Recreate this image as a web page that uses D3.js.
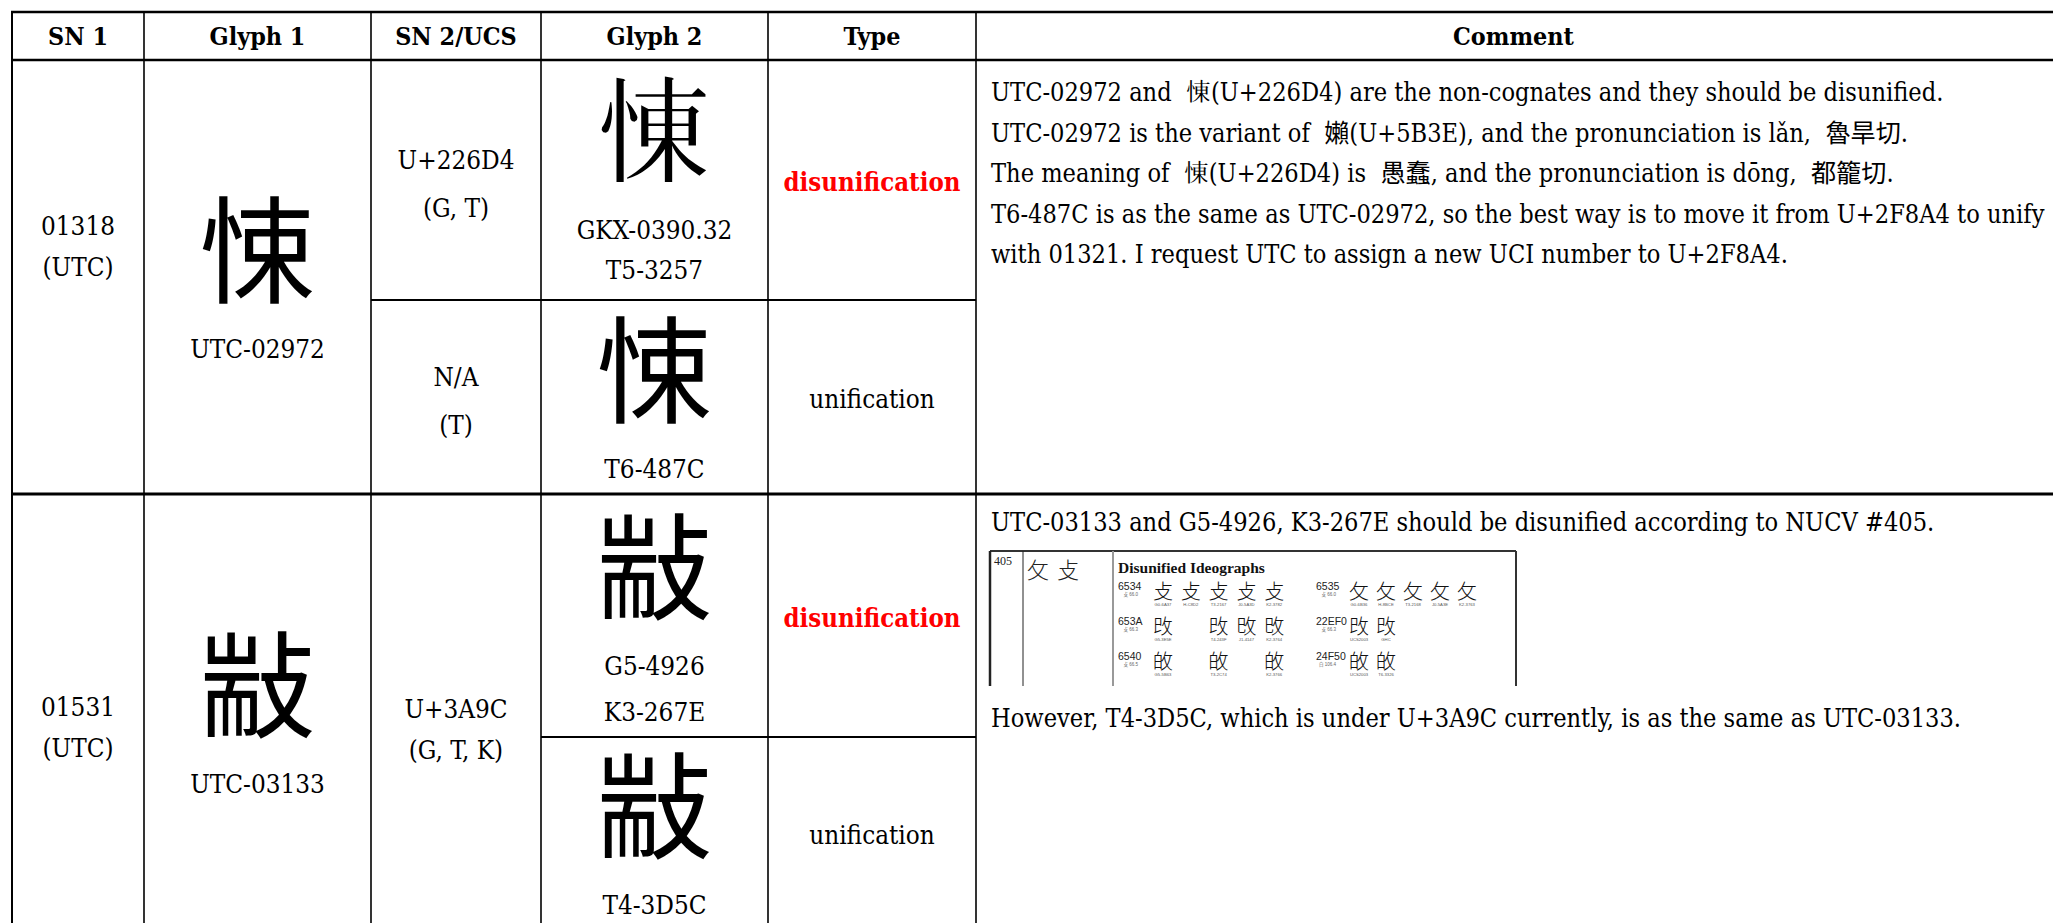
<!DOCTYPE html>
<html><head><meta charset="utf-8">
<script src="https://cdn.jsdelivr.net/npm/d3@7/dist/d3.min.js"></script>
<style>html,body{margin:0;padding:0;background:#fff;overflow:hidden;}svg{display:block}</style>
</head><body>
<svg id="chart"></svg>
<script>
// ===================== DATA =====================
const headers = ["SN 1", "Glyph 1", "SN 2/UCS", "Glyph 2", "Type", "Comment"];
const sn1Lines = [["01318", "(UTC)"], ["01531", "(UTC)"]];
const glyph1Chars = ["悚", "㪜"];
const glyph1Sources = ["UTC-02972", "UTC-03133"];
const sn2Lines = [[["U+226D4", "(G, T)"], ["N/A", "(T)"]], [["U+3A9C", "(G, T, K)"]]];
const glyph2Chars = [["\u{226D4}", "悚"], ["㪜", "㪜"]];
const glyph2Sources = [[["GKX-0390.32", "T5-3257"], ["T6-487C"]], [["G5-4926", "K3-267E"], ["T4-3D5C"]]];
const typeLabels = [["disunification", "unification"], ["disunification", "unification"]];
const comment1Lines = [
  "UTC-02972 and  \u{226D4}(U+226D4) are the non-cognates and they should be disunified.",
  "UTC-02972 is the variant of  嬾(U+5B3E), and the pronunciation is lǎn,  魯旱切.",
  "The meaning of  \u{226D4}(U+226D4) is  愚蠢, and the pronunciation is dōng,  都籠切.",
  "T6-487C is as the same as UTC-02972, so the best way is to move it from U+2F8A4 to unify",
  "with 01321. I request UTC to assign a new UCI number to U+2F8A4."
];
const comment2Before = ["UTC-03133 and G5-4926, K3-267E should be disunified according to NUCV #405."];
const comment2After = ["However, T4-3D5C, which is under U+3A9C currently, is as the same as UTC-03133."];
// NUCV #405 excerpt shown inside the comment
const nucvNumber = "405";
const nucvPair = ["攵", "攴"];
const nucvTitle = "Disunified Ideographs";
const nucvLeft = [
  {code: "6534", rad: "攴 66.0", ch: "攴", items: [[0, "G0-6A37"], [1, "H-C8D2"], [2, "T3-2167"], [3, "J0-5A3D"], [4, "K2-3782"]]},
  {code: "653A", rad: "攴 66.3", ch: "攺", items: [[0, "G5-3E5E"], [2, "T4-243F"], [3, "J1-4147"], [4, "K2-3764"]]},
  {code: "6540", rad: "攴 66.5", ch: "敀", items: [[0, "G5-5B63"], [2, "T3-2C74"], [4, "K2-3766"]]}
];
const nucvRight = [
  {code: "6535", rad: "攴 66.0", ch: "攵", items: [[0, "G0-6B36"], [1, "H-8BCE"], [2, "T3-2168"], [3, "J0-5A3E"], [4, "K2-3763"]]},
  {code: "22EF0", rad: "攴 66.3", ch: "\u{22EF0}", items: [[0, "UCS2003"], [1, "GHC"]]},
  {code: "24F50", rad: "白 106.4", ch: "\u{24F50}", items: [[0, "UCS2003"], [1, "T6-3326"]]}
];
// look-alike substitutes if the installed fonts lack a character
const fallbackChars = {"\u{226D4}": "悚", "\u{22EF0}": "攺", "\u{24F50}": "敀"};

// ===================== LAYOUT =====================
const W = 2053, H = 923;
const colEdges = [12, 144, 371, 541, 768, 976, 2051];
const rowEdges = [12, 60, 300, 494, 737, 929];
const x = d3.scaleLinear().domain(d3.range(colEdges.length)).range(colEdges);
const y = d3.scaleLinear().domain(d3.range(rowEdges.length)).range(rowEdges);
const GLYPH = 116;
// per-row paragraph placement (offset of text block centre from the row top, line gap)
const sn1Place = [[184, 40.6], [231, 40.6]];
const sn2Gap = [48, 40.6];
const sn2RowOffset = [0, 233];
const glyph2Gap = [40, 46];
const COM_GAP = 40.6;

const CJK = "'Noto Sans CJK SC','Noto Sans CJK TC','Noto Sans CJK JP','Noto Sans CJK KR'";
const SERIF = "'DejaVu Serif Condensed','DejaVu Serif'," + CJK + ",serif";

const svg = d3.select("#chart").attr("width", W).attr("height", H);
svg.append("rect").attr("width", W).attr("height", H).attr("fill", "#fff");

// ---- glyph availability check ----
function renders(ch) {
  const cv = document.createElement("canvas"); cv.width = 80; cv.height = 80;
  const g = cv.getContext("2d");
  const snap = t => { g.clearRect(0, 0, 80, 80); g.font = "60px " + CJK; g.textBaseline = "middle"; g.fillStyle = "#000"; g.fillText(t, 5, 40); return g.getImageData(0, 0, 80, 80).data; };
  const a = snap(ch), b = snap("\u{31350}"), c = snap("\u{10FFFD}");
  const eq = (p, q) => { for (let i = 3; i < p.length; i += 4) if (p[i] !== q[i]) return false; return true; };
  let ink = 0; for (let i = 3; i < a.length; i += 4) if (a[i] > 0) ink++;
  return ink > 0 && !eq(a, b) && !eq(a, c);
}
const okMap = {};
Object.keys(fallbackChars).forEach(k => okMap[k] = renders(k));
const useChar = ch => (fallbackChars[ch] && !okMap[ch]) ? fallbackChars[ch] : ch;
const fixStr = s => Array.from(s).map(useChar).join("");

function cjkFont(src) {
  if (src.startsWith("UTC") || src.startsWith("T") || src.startsWith("H")) return "'Noto Sans CJK TC'";
  if (src.startsWith("J")) return "'Noto Sans CJK JP'";
  if (src.startsWith("K")) return "'Noto Sans CJK KR'";
  return "'Noto Sans CJK SC'";
}

// ---- text measuring / fitting ----
const meas = svg.append("text").attr("x", -9999).attr("y", -9999);
function textW(str, fam, wt, size) {
  meas.attr("font-family", fam).attr("font-weight", wt).attr("font-size", size).text(str);
  return meas.node().getComputedTextLength();
}
function fit(samples, targets, fam, wt) {
  let m = 0, t = 0;
  samples.forEach((s, i) => { m += textW(s, fam, wt, 20); t += targets[i]; });
  return 20 * t / m;
}
const headSize = fit(headers, [54, 96, 118, 96, 63, 124], SERIF, "bold");
const cellSize = fit(["UTC-02972", "GKX-0390.32", "unification"], [134, 155, 127], SERIF, "normal");
const typeSize = fit(["disunification"], [177], SERIF, "bold");
const comSize = fit([fixStr(comment1Lines[3])], [1054], SERIF, "normal");
meas.remove();

// ===================== GRID =====================
const grid = svg.append("g").attr("stroke", "#000").attr("fill", "none");
function hline(yy, x0, x1, w) { grid.append("line").attr("x1", x0).attr("x2", x1).attr("y1", yy).attr("y2", yy).attr("stroke-width", w); }
function vline(xx, y0, y1, w) { grid.append("line").attr("x1", xx).attr("x2", xx).attr("y1", y0).attr("y2", y1).attr("stroke-width", w); }
d3.range(0, 6).forEach(i => vline(x(i), y(0), y(5) + 40, i === 0 ? 2 : 1.6));
hline(y(0), x(0) - 1, W + 5, 2.6);
hline(y(1), x(0) - 1, W + 5, 2.6);
hline(y(3), x(0) - 1, W + 5, 3);
hline(y(2), x(2), x(5), 2.2);
hline(y(4), x(3), x(5), 2.2);

// ===================== HEADER =====================
svg.append("g").selectAll("text").data(headers).join("text")
  .attr("x", (d, i) => (x(i) + x(i + 1)) / 2)
  .attr("y", (y(0) + y(1)) / 2 + 0.36 * headSize)
  .attr("text-anchor", "middle")
  .attr("font-family", SERIF).attr("font-weight", "bold").attr("font-size", headSize)
  .attr("fill", "#000").text(d => d);

// ===================== BODY =====================
const body = svg.append("g");
function lines(arr, cx, cy, size, gap, opts = {}) {
  const n = arr.length;
  arr.forEach((s, i) => {
    body.append("text")
      .attr("x", cx)
      .attr("y", cy + (i - (n - 1) / 2) * gap + 0.365 * size + 2)
      .attr("text-anchor", "middle")
      .attr("font-family", SERIF).attr("font-weight", opts.weight || "normal")
      .attr("font-size", size).attr("fill", opts.color || "#000").text(s);
  });
}
function glyphBlock(ch, labels, fontFam, cx, cy, gap) {
  const n = labels.length;
  const gc = cy - 27 - (n - 1) * 22;
  body.append("text").attr("x", cx).attr("y", gc + 0.38 * GLYPH)
    .attr("text-anchor", "middle").attr("font-family", fontFam).attr("font-size", GLYPH)
    .attr("fill", "#000").text(useChar(ch));
  labels.forEach((s, i) => {
    body.append("text").attr("x", cx).attr("y", gc + 108 + i * gap)
      .attr("text-anchor", "middle").attr("font-family", SERIF).attr("font-size", cellSize)
      .attr("fill", "#000").text(s);
  });
}

[0, 1].forEach(r => {
  const top = y(1 + 2 * r), mid = y(2 + 2 * r), bot = y(3 + 2 * r);
  const c = (top + bot) / 2;
  const subs = [[top, mid], [mid, bot]];
  // SN 1
  lines(sn1Lines[r], (x(0) + x(1)) / 2, top + sn1Place[r][0], cellSize, sn1Place[r][1]);
  // Glyph 1
  glyphBlock(glyph1Chars[r], [glyph1Sources[r]], cjkFont(glyph1Sources[r]), (x(1) + x(2)) / 2, c, 48);
  // SN 2 / UCS
  if (sn2Lines[r].length === 2) {
    sn2Lines[r].forEach((ls, k) => lines(ls, (x(2) + x(3)) / 2, (subs[k][0] + subs[k][1]) / 2 + 2, cellSize, sn2Gap[r]));
  } else {
    lines(sn2Lines[r][0], (x(2) + x(3)) / 2, top + sn2RowOffset[r], cellSize, sn2Gap[r]);
  }
  // Glyph 2 and Type
  [0, 1].forEach(k => {
    const cc = (subs[k][0] + subs[k][1]) / 2;
    const srcs = glyph2Sources[r][k];
    glyphBlock(glyph2Chars[r][k], srcs, cjkFont(srcs[0]), (x(3) + x(4)) / 2, cc, glyph2Gap[r]);
    const t = typeLabels[r][k];
    const dis = t === "disunification";
    lines([t], (x(4) + x(5)) / 2, cc, dis ? typeSize : cellSize, 48, {weight: dis ? "bold" : "normal", color: dis ? "#ff0000" : "#000"});
  });
});

// ===================== COMMENTS =====================
const comX = x(5) + 15;
function comLine(s, yy) {
  body.append("text").attr("x", comX).attr("y", yy)
    .attr("font-family", SERIF).attr("font-size", comSize).attr("fill", "#000")
    .attr("xml:space", "preserve").style("white-space", "pre").text(fixStr(s));
}
comment1Lines.forEach((s, i) => comLine(s, y(1) + 41 + i * COM_GAP));
comment2Before.forEach((s, i) => comLine(s, y(3) + 37 + i * COM_GAP));
comment2After.forEach((s, i) => comLine(s, y(3) + 233 + i * COM_GAP));

// ---- NUCV #405 excerpt ----
const nx = x(5) + 14, ny = y(3) + 57, nw = 526, nh = 140;
const nv = svg.append("g").attr("transform", `translate(${nx},${ny})`);
const nvClip = svg.append("clipPath").attr("id", "nvclip");
nvClip.append("rect").attr("x", -4).attr("y", -4).attr("width", nw + 8).attr("height", y(3) + 192 - ny + 4);
nv.attr("clip-path", "url(#nvclip)");
nv.append("line").attr("x1", 0).attr("x2", nw).attr("y1", 0).attr("y2", 0).attr("stroke", "#333").attr("stroke-width", 2);
nv.append("line").attr("x1", 0).attr("x2", 0).attr("y1", 0).attr("y2", nh).attr("stroke", "#222").attr("stroke-width", 2.5);
nv.append("line").attr("x1", 33).attr("x2", 33).attr("y1", 0).attr("y2", nh).attr("stroke", "#222").attr("stroke-width", 1);
nv.append("line").attr("x1", 123).attr("x2", 123).attr("y1", 0).attr("y2", nh).attr("stroke", "#999").attr("stroke-width", 2);
nv.append("line").attr("x1", nw).attr("x2", nw).attr("y1", 0).attr("y2", nh).attr("stroke", "#333").attr("stroke-width", 2);
nv.append("text").attr("x", 4).attr("y", 14).attr("font-family", "'Liberation Serif'").attr("font-size", 12).attr("fill", "#222").text(nucvNumber);
nucvPair.forEach((ch, i) => {
  nv.append("text").attr("x", 48 + i * 30).attr("y", 19 + 0.38 * 22).attr("text-anchor", "middle")
    .attr("font-family", "'Noto Sans CJK SC'").attr("font-weight", 300).attr("font-size", 22).attr("fill", "#222").text(ch);
});
nv.append("text").attr("x", 128).attr("y", 22).attr("font-family", "'Liberation Serif'").attr("font-weight", "bold")
  .attr("font-size", 15.5).attr("fill", "#111").text(nucvTitle);
const rowY = d3.scaleLinear().domain([0, 1]).range([40, 75]);
const leftSlot = d3.scaleLinear().domain([0, 1]).range([173, 200.8]);
const rightSlot = d3.scaleLinear().domain([0, 1]).range([369, 396]);
function nucvGroup(list, codeX, slot) {
  list.forEach((grp, r) => {
    const gy = rowY(r);
    nv.append("text").attr("x", codeX).attr("y", gy - 1).attr("font-family", "'Liberation Sans'")
      .attr("font-size", 10.5).attr("fill", "#222").text(grp.code);
    nv.append("text").attr("x", codeX + 20).attr("y", gy + 5).attr("text-anchor", "end").attr("font-family", "'Liberation Sans'," + CJK)
      .attr("font-size", 4.5).attr("fill", "#666").text(grp.rad);
    grp.items.forEach(([s, lab]) => {
      nv.append("text").attr("x", slot(s)).attr("y", gy + 0.38 * 20).attr("text-anchor", "middle")
        .attr("font-family", cjkFont(lab)).attr("font-weight", 300).attr("font-size", 20).attr("fill", "#111").text(useChar(grp.ch));
      nv.append("text").attr("x", slot(s)).attr("y", gy + 15).attr("text-anchor", "middle")
        .attr("font-family", "'Liberation Sans'").attr("font-size", 4.2).attr("fill", "#555").text(lab);
    });
  });
}
nucvGroup(nucvLeft, 128, leftSlot);
nucvGroup(nucvRight, 326, rightSlot);
</script>
</body></html>
